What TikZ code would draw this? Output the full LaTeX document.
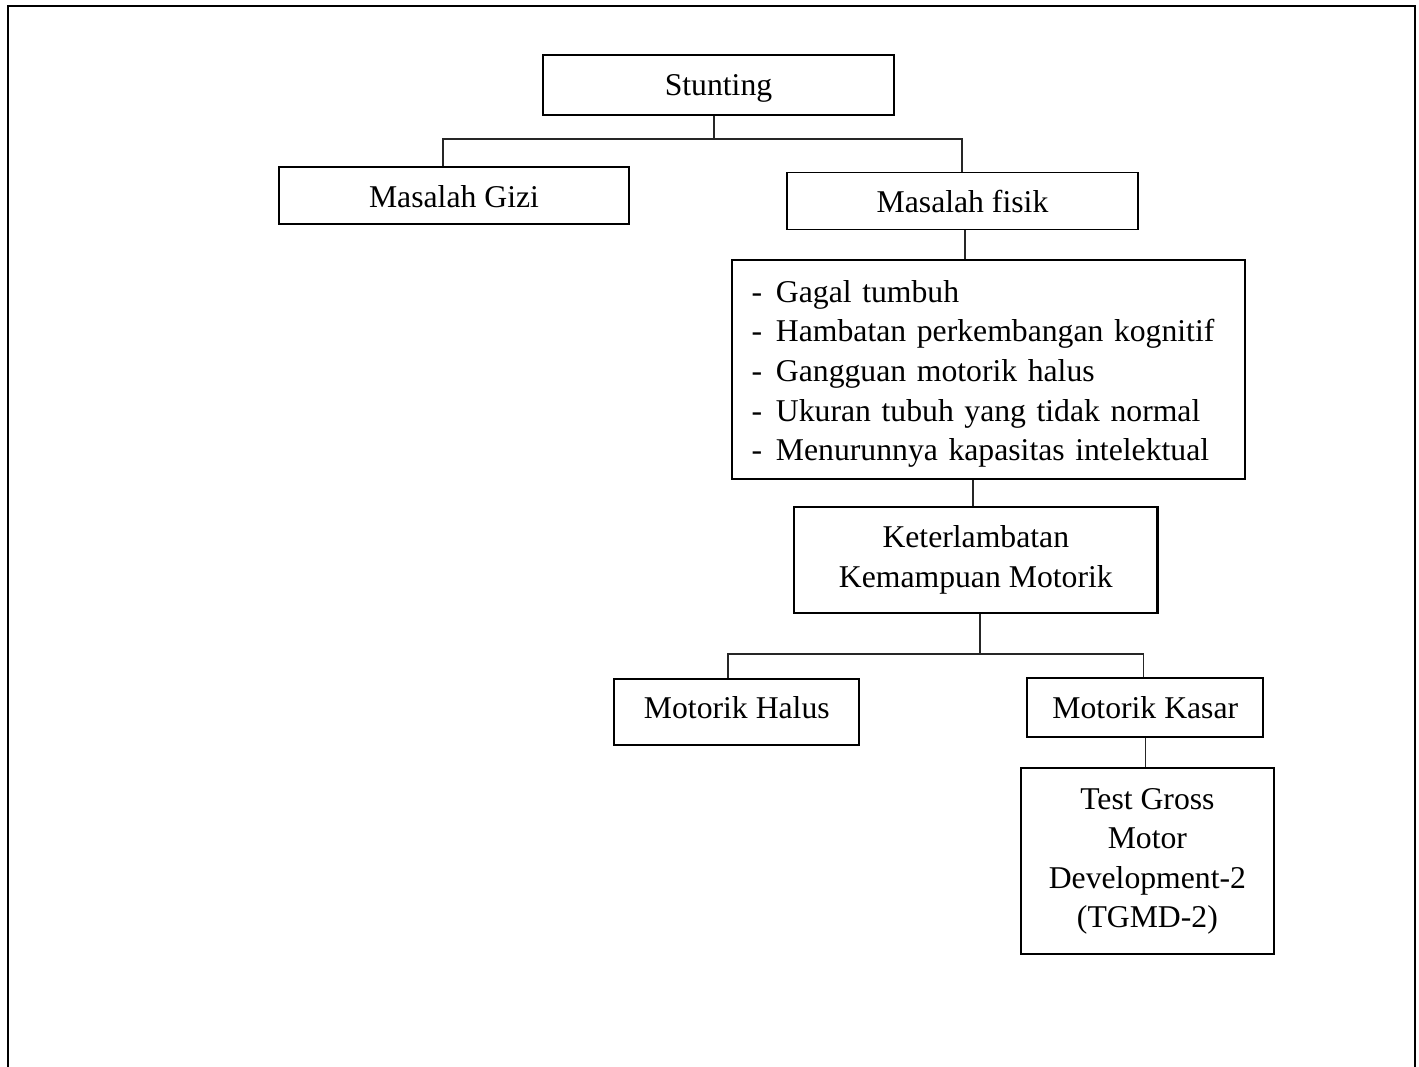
\documentclass[tikz,border=0pt]{standalone}
\usepackage{fontspec}
\setmainfont{Liberation Serif}
\begin{document}
\begin{tikzpicture}[x=1pt,y=-1pt,
  every node/.style={font=\fontsize{31.7pt}{39.6pt}\selectfont, inner sep=0pt},
  box/.style={draw=black, line width=1.8pt, minimum width=#1},
  conn/.style={draw=black!85, line width=1.1pt},
  frame/.style={draw=black, line width=2pt}]
\useasboundingbox (0,0) rectangle (1419,1067);
\draw[frame] (8,1070) -- (8,6.3) -- (1415.3,6.3) -- (1415.3,1070);

\node[box=351, minimum height=60, text height=29pt, text depth=7pt] (stunt) at (718.5,85) {Stunting};
\node[box=350, minimum height=57, text height=32pt, text depth=7pt] (gizi) at (454,195.5) {Masalah Gizi};
\node[box=351.6, minimum height=57, text height=30pt, text depth=7pt] (fisik) at (962.5,201) {Masalah fisik};
\node[box=513, minimum height=219, inner xsep=19.5pt, text width=474pt, align=left] (list) at (988.5,369.5)
  {\rule{0pt}{31pt}\makebox[24.5pt][l]{-}Gagal tumbuh\\
   \makebox[24.5pt][l]{-}Hambatan perkembangan kognitif\\
   \makebox[24.5pt][l]{-}Gangguan motorik halus\\
   \makebox[24.5pt][l]{-}Ukuran tubuh yang tidak normal\\
   \makebox[24.5pt][l]{-}Menurunnya kapasitas intelektual};
\node[box=363.5, line width=2.2pt, minimum height=105.7, align=center] (ket) at (975.8,559.9)
  {Keterlambatan\\Kemampuan Motorik};
\node[box=245, line width=2pt, minimum height=66, text height=19.6pt, text depth=7pt] (halus) at (736.8,712) {Motorik Halus};
\node[box=236, minimum height=59.5, text height=28pt, text depth=7pt] (kasar) at (1145.3,707.5) {Motorik Kasar};
\node[box=253.3, minimum height=186, align=center] (tgmd) at (1147.4,861.3)
  {Test Gross\\Motor\\Development-2\\(TGMD-2)};

\coordinate (j1) at (714,139);
\coordinate (b1L) at (443,139);
\coordinate (b1R) at (962,139);
\coordinate (c2) at (965,0);
\coordinate (c3) at (973,0);
\coordinate (j2) at (980,654);
\coordinate (b2L) at (728,654);
\coordinate (b2R) at (1143.5,654);

\draw[conn] (stunt.south -| j1) -- (j1);
\draw[conn] (b1L |- gizi.north) -- (b1L) -- (b1R) -- (b1R |- fisik.north);
\draw[conn] (fisik.south -| c2) -- (list.north -| c2);
\draw[conn] (list.south -| c3) -- (ket.north -| c3);
\draw[conn] (ket.south -| j2) -- (j2);
\draw[conn] (b2L |- halus.north) -- (b2L) -- (b2R) -- (b2R |- kasar.north);
\draw[conn] (kasar.south) -- (kasar.south |- tgmd.north);
\end{tikzpicture}
\end{document}
